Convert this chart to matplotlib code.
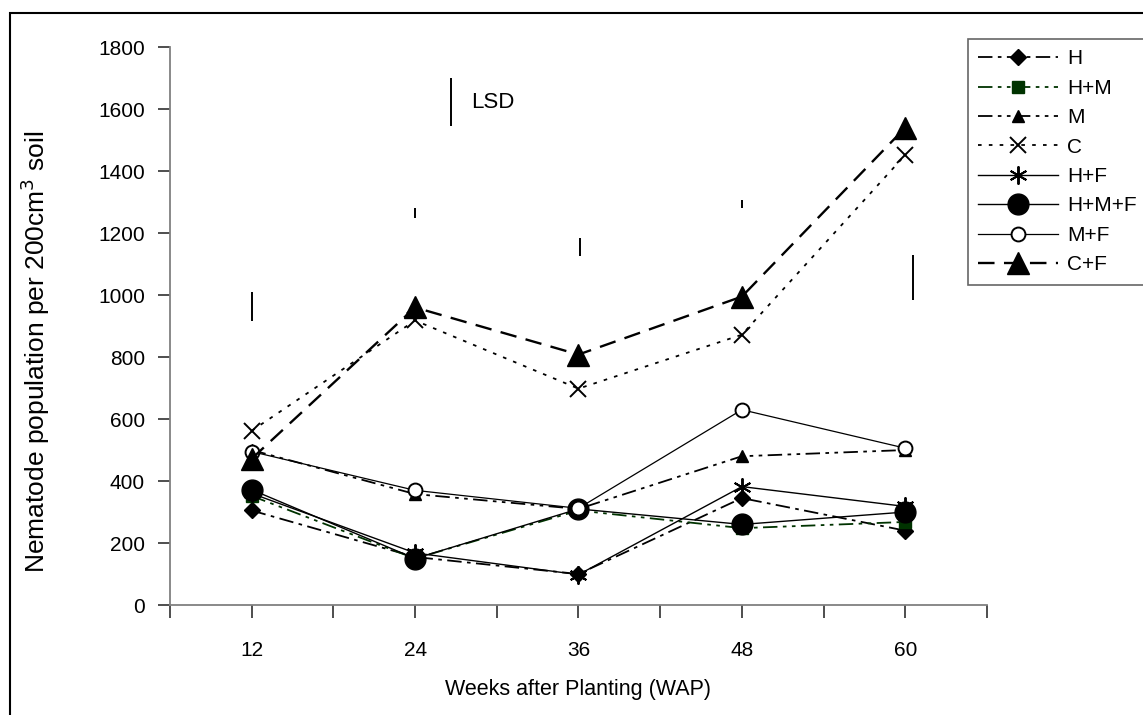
import matplotlib.pyplot as plt
from matplotlib.patches import Rectangle

plt.rcParams['font.family'] = ['Liberation Sans Narrow', 'Liberation Sans', 'DejaVu Sans']

# ----------- Data -----------
weeks = ["12", "24", "36", "48", "60"]

h = [305, 155, 100, 345, 240]
h_m = [352, 150, 305, 248, 268]
m = [500, 358, 310, 480, 500]
c = [562, 918, 698, 872, 1452]
h_f = [360, 168, 98, 382, 318]
h_m_f = [372, 150, 310, 260, 300]
m_f = [495, 370, 312, 630, 506]
c_f = [472, 960, 808, 995, 1540]

# LSD bars (bottom, top) at each sampling date
lsd_low = [915, 1250, 1125, 1282, 985]
lsd_high = [1010, 1280, 1185, 1308, 1130]
lsd_key = (1545, 1700)

# ----------- Plot -----------
fig = plt.figure(figsize=(11.43, 7.15), dpi=100)
ax = fig.add_axes([0.1487, 0.1538, 0.7148, 0.7804])

x = range(len(weeks))
k = "black"
green = "#003300"
fs = 15

ax.plot(x, h, color=k, lw=1.3, ls=(0, (8, 3, 2, 3)), marker="D", ms=8, label="H")
ax.plot(x, h_m, color=green, lw=1.3, ls=(0, (8, 3, 2, 3, 2, 3)), marker="s", ms=8,
        mfc=green, mec=green, label="H+M")
ax.plot(x, m, color=k, lw=1.3, ls=(0, (8, 3, 2, 3, 2, 3)), marker="^", ms=8, label="M")
ax.plot(x, c, color=k, lw=1.3, ls=(0, (2, 4)), marker="x", ms=12, mew=1.4, label="C")
ax.plot(x, h_f, color=k, lw=1.0, ls="-", marker=(6, 2, 0), ms=13, mew=1.4, label="H+F")
ax.plot(x, h_m_f, color=k, lw=1.0, ls="-", marker="o", ms=15, label="H+M+F")
ax.plot(x, m_f, color=k, lw=0.9, ls="-", marker="o", ms=10, mfc="white", mew=1.4, label="M+F")
ax.plot(x, c_f, color=k, lw=1.7, ls=(0, (7, 4)), marker="^", ms=16, label="C+F")

# LSD bars
lsd_x = [0, 1, 2.01, 3.0, 4.05]
ax.vlines(lsd_x, lsd_low, lsd_high, color=k, lw=1.4)
ax.vlines(1.22, lsd_key[0], lsd_key[1], color=k, lw=1.4)
ax.text(1.34, (lsd_key[0] + lsd_key[1]) / 2, "LSD", fontsize=fs + 1, va="center", ha="left")

ax.set_xlim(-0.5, 4.5)
ax.set_ylim(0, 1800)
ax.set_yticks(range(0, 1801, 200))
ax.set_xticks([i - 0.5 for i in range(6)] + list(x))
ax.set_xticklabels([""] * 6 + weeks)

for s in ["top", "right"]:
    ax.spines[s].set_visible(False)
for s in ["left", "bottom"]:
    ax.spines[s].set_color("#808080")
    ax.spines[s].set_linewidth(1.3)
ax.tick_params(direction="out", length=9, width=1.3, color="#404040", labelsize=fs)
ax.tick_params(axis="x", pad=17)
ax.tick_params(axis="y", pad=9)

fig.text(578 / 1143, 1 - 690 / 715, "Weeks after Planting (WAP)", fontsize=fs + 0.5,
         ha="center", va="center")
fig.text(35 / 1143, 1 - 352 / 715, "Nematode population per 200cm$^3$ soil", fontsize=19,
         rotation=90, ha="center", va="center")

leg = ax.legend(loc="upper left", bbox_to_anchor=(968 / 1143, 1 - 39 / 715),
                bbox_transform=fig.transFigure, borderaxespad=0, frameon=True,
                fancybox=False, edgecolor="#404040", fontsize=fs, handlelength=3.8,
                handletextpad=0.45, labelspacing=0.5, borderpad=0.5)
leg.get_frame().set_linewidth(1.2)

# outer chart border
fig.patches.append(Rectangle((9.5 / 1143, -0.1), 1.2, 1 - 13 / 715 + 0.1,
                             transform=fig.transFigure, fill=False,
                             edgecolor="black", lw=1.5))

plt.savefig("out.png", dpi=100)
